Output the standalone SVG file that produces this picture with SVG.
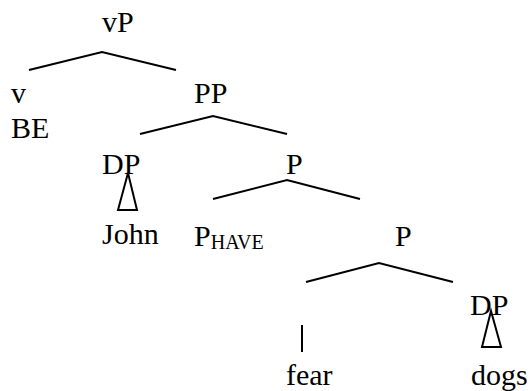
<svg xmlns="http://www.w3.org/2000/svg" width="530" height="391" viewBox="0 0 530 391">
<style>
text{font-family:"Liberation Serif","Times New Roman",serif;font-size:30px;fill:#000}
.sub{font-size:20px}
.e{stroke:#000;stroke-width:2;fill:none}
</style>
<rect width="530" height="391" fill="#fff"/>
<g id="connectors">
<polyline class="e" points="29,70 102,52 176,70"/>
<polyline class="e" points="140,134 213,116 287,134"/>
<polyline class="e" points="213,199 287,180 360,199"/>
<polyline class="e" points="306,282 379,263 453,282"/>
<polygon class="e" points="128,173 118,210 137,210"/>
<polygon class="e" points="491,311 482,347 501,347"/>
<line class="e" x1="302" y1="325" x2="302" y2="352"/>
</g>
<g id="vP"><text x="102" y="32">vP</text></g>
<g id="v"><text x="11" y="103">v</text><text x="11" y="138">BE</text></g>
<g id="PP"><text x="194" y="103">PP</text></g>
<g id="DP1"><text x="102" y="174">DP</text></g>
<g id="P1"><text x="286" y="174">P</text></g>
<g id="John"><text x="102" y="244">John</text></g>
<g id="PHAVE"><text x="194" y="246">P<tspan class="sub" dy="3">HAVE</tspan></text></g>
<g id="P2"><text x="395" y="246">P</text></g>
<g id="DP2"><text x="470" y="315">DP</text></g>
<g id="fear"><text x="286" y="385">fear</text></g>
<g id="dogs"><text x="471" y="385">dogs</text></g>
</svg>
